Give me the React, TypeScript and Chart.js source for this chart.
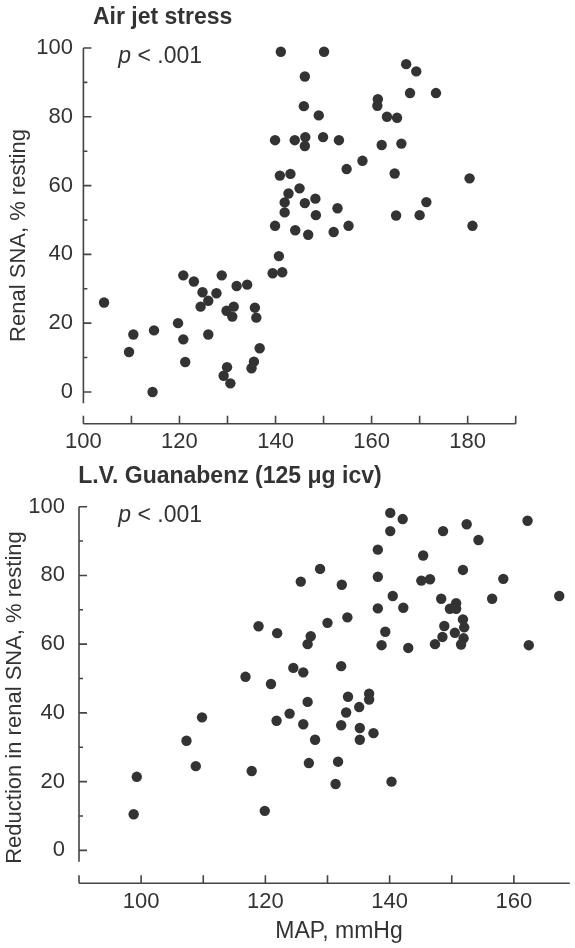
import React, { useEffect, useRef } from 'react';
import { Chart, registerables } from 'chart.js';

Chart.register(...registerables);

// ---------- Data: Air jet stress ----------
const airMap = [
  104.3, 109.5, 110.4, 114.7, 114.4, 119.7, 120.8, 120.8, 121.2, 123.0,
  124.4, 124.8, 126.0, 126.0, 127.7, 128.8, 129.2, 129.8, 129.9, 130.6,
  131.0, 131.3, 131.9, 134.1, 135.7, 136.0, 136.7, 135.5, 135.0, 139.9,
  140.7, 139.4, 141.4, 144.1, 146.8, 152.1, 155.2, 181.0, 141.9, 148.4,
  165.1, 170.0, 141.9, 146.1, 148.3, 152.9, 171.4, 142.7, 145.0, 140.9,
  143.1, 164.8, 180.4, 154.8, 158.1, 139.9, 144.0, 146.2, 146.1, 149.9,
  153.2, 162.1, 166.2, 149.0, 163.2, 165.3, 145.9, 161.3, 161.2, 168.0,
  173.4, 146.1, 167.2, 169.3, 141.1, 150.1,
];
const airSna = [
  26.0, 11.6, 16.7, 17.9, 0, 20.0, 33.9, 15.3, 8.7, 32.1,
  24.8, 29.0, 26.5, 16.7, 28.7, 33.9, 4.7, 23.6, 7.2, 2.5,
  21.9, 24.8, 30.8, 31.2, 24.5, 21.6, 12.7, 8.8, 6.9, 48.3,
  39.5, 34.5, 34.8, 47.0, 45.7, 46.5, 48.3, 48.3, 52.2, 51.4,
  51.3, 51.4, 55.1, 54.9, 56.2, 53.4, 55.2, 57.7, 59.2, 62.9,
  63.4, 63.5, 62.1, 64.8, 67.2, 73.2, 73.2, 74.1, 71.5, 74.1,
  73.2, 71.8, 72.2, 80.4, 80.0, 79.7, 83.1, 85.1, 83.2, 86.9,
  86.9, 91.7, 95.3, 93.2, 98.9, 98.9,
];

// ---------- Data: L.V. Guanabenz ----------
const guanMap = [
  140.1, 142.1, 162.2, 140.1, 148.6, 152.4, 154.3, 138.1, 145.4, 128.8,
  125.7, 132.3, 138.1, 145.1, 146.5, 151.8, 158.3, 167.3, 140.5, 138.1,
  142.2, 148.3, 156.5, 150.7, 149.7, 150.7, 151.8, 152.0, 148.8, 150.5,
  148.5, 151.9, 151.5, 147.3, 143.0, 138.7, 139.3, 162.4, 133.2, 130.0,
  127.3, 126.8, 118.9, 121.9, 98.8, 99.3, 107.3, 108.8, 109.8, 116.8,
  117.8, 119.9, 120.9, 121.8, 123.9, 124.5, 126.1, 132.2, 126.8, 133.3,
  136.7, 136.7, 135.1, 133.0, 126.1, 132.2, 135.2, 137.4, 135.2, 128.0,
  127.0, 131.7, 131.3, 140.3,
];
const guanSna = [
  98.2, 96.4, 95.9, 92.9, 92.9, 94.9, 90.3, 87.5, 85.8, 81.9,
  78.2, 77.3, 79.6, 78.5, 78.9, 81.6, 79.0, 74.0, 74.0, 70.4,
  70.6, 73.2, 73.2, 71.9, 70.3, 70.3, 67.2, 64.9, 65.3, 63.3,
  62.1, 61.7, 59.9, 60.0, 58.9, 59.7, 63.6, 59.7, 67.8, 66.2,
  62.3, 60.0, 65.2, 63.2, 10.5, 21.4, 31.9, 24.5, 38.7, 50.5,
  23.1, 11.5, 48.4, 37.7, 39.8, 53.1, 51.8, 53.6, 43.2, 44.7,
  45.6, 43.9, 41.7, 40.1, 36.7, 36.4, 35.6, 34.1, 32.2, 32.2,
  25.4, 25.8, 19.3, 20.0,
];

// ---------- Ticks ----------
const yMajorTicks = [0, 20, 40, 60, 80, 100];
const yMinorTicks = [10, 30, 50, 70, 90];
const airXMajorTicks = [100, 120, 140, 160, 180];
const airXMinorTicks = [110, 130, 150, 170, 190];
const guanXMajorTicks = [100, 120, 140, 160];
const guanXMinorTicks = [90, 110, 130, 150];

const FONT = "'Liberation Sans', Arial, Helvetica, sans-serif";
const INK = '#333333';
const AXIS = '#444444';

const decorPlugin = {
  id: 'decor',
  afterDraw(chart: any, _args: any, opts: any) {
    const { ctx, chartArea } = chart;
    const xs = chart.scales.x;
    const ys = chart.scales.y;
    ctx.save();
    ctx.strokeStyle = AXIS;
    ctx.lineWidth = 1.6;
    ctx.beginPath();
    const yx = chartArea.left;
    ctx.moveTo(yx, chartArea.bottom);
    ctx.lineTo(yx, chartArea.top);
    ys.ticks.forEach((t: any) => {
      const py = ys.getPixelForValue(t.value);
      const len = opts.yMajor.includes(t.value) ? 8 : 4;
      ctx.moveTo(yx, py);
      ctx.lineTo(yx + len, py);
    });
    const ay = chartArea.bottom + opts.axisGap;
    ctx.moveTo(chartArea.left, ay);
    ctx.lineTo(chartArea.right, ay);
    xs.ticks.forEach((t: any) => {
      const px = xs.getPixelForValue(t.value);
      ctx.moveTo(px, ay);
      ctx.lineTo(px, ay - 8);
    });
    ctx.stroke();

    ctx.fillStyle = INK;
    ctx.textBaseline = 'alphabetic';
    // title
    ctx.textAlign = 'left';
    ctx.font = `bold 23px ${FONT}`;
    ctx.fillText(opts.title, opts.titleX, opts.titleY);
    // p value
    ctx.font = `italic 23px ${FONT}`;
    ctx.fillText('p', opts.pX, opts.pY);
    const pw = ctx.measureText('p').width;
    ctx.font = `23px ${FONT}`;
    ctx.fillText(' < .001', opts.pX + pw, opts.pY);
    // y title
    ctx.save();
    ctx.translate(opts.yTitleX, opts.yTitleY);
    ctx.rotate(-Math.PI / 2);
    ctx.textAlign = 'center';
    ctx.font = `22px ${FONT}`;
    ctx.fillText(opts.yTitle, 0, 0);
    ctx.restore();
    // x title
    if (opts.xTitle) {
      ctx.textAlign = 'center';
      ctx.font = `23px ${FONT}`;
      ctx.fillText(opts.xTitle, opts.xTitleX, opts.xTitleY);
    }
    ctx.restore();
  },
};

type PanelProps = {
  width: number;
  height: number;
  xs: number[];
  ys: number[];
  xMin: number;
  xMax: number;
  xMajor: number[];
  xMinor: number[];
  yAxisWidth: number;
  padTop: number;
  padRight: number;
  plotBottom: number;
  xLabelPad: number;
  yLabelPad: number;
  decor: any;
};

function Panel(p: PanelProps) {
  const ref = useRef<HTMLCanvasElement>(null);
  useEffect(() => {
    if (!ref.current) return;
    const points = p.xs.map((x, i) => ({ x, y: p.ys[i] }));
    const xTicks = [...p.xMajor, ...p.xMinor].sort((a, b) => a - b);
    const yTicks = [...yMajorTicks, ...yMinorTicks].sort((a, b) => a - b);
    const chart = new Chart(ref.current, {
      type: 'scatter',
      data: {
        datasets: [
          {
            data: points,
            backgroundColor: INK,
            borderColor: INK,
            borderWidth: 0,
            pointRadius: 5.2,
            pointHoverRadius: 5.2,
            clip: false as any,
          },
        ],
      },
      plugins: [decorPlugin],
      options: {
        animation: false,
        responsive: false,
        maintainAspectRatio: false,
        events: [],
        layout: { padding: { top: p.padTop, right: p.padRight, left: 0, bottom: 0 } },
        plugins: {
          legend: { display: false },
          tooltip: { enabled: false },
          decor: p.decor,
        } as any,
        scales: {
          x: {
            type: 'linear',
            min: p.xMin,
            max: p.xMax,
            grid: { display: false, drawTicks: false },
            border: { display: false },
            afterBuildTicks: (s: any) => {
              s.ticks = xTicks.map((v) => ({ value: v }));
            },
            afterFit: (s: any) => {
              s.height = p.height - p.plotBottom;
            },
            ticks: {
              autoSkip: false,
              maxRotation: 0,
              padding: p.xLabelPad,
              color: INK,
              font: { family: FONT, size: 22 },
              callback: (v: any) => (p.xMajor.includes(Number(v)) ? String(v) : ''),
            },
          },
          y: {
            type: 'linear',
            min: -3.3,
            max: 100,
            grid: { display: false, drawTicks: false },
            border: { display: false },
            afterBuildTicks: (s: any) => {
              s.ticks = yTicks.map((v) => ({ value: v }));
            },
            afterFit: (s: any) => {
              s.width = p.yAxisWidth;
            },
            ticks: {
              autoSkip: false,
              padding: p.yLabelPad,
              color: INK,
              font: { family: FONT, size: 22 },
              callback: (v: any) => (yMajorTicks.includes(Number(v)) ? String(v) : ''),
            },
          },
        },
      } as any,
    });
    return () => chart.destroy();
  }, []);
  return <canvas ref={ref} width={p.width} height={p.height} style={{ display: 'block' }} />;
}

export default function App() {
  return (
    <div style={{ position: 'absolute', left: 0, top: 0, width: 575, height: 948, background: '#fff' }}>
      <Panel
        width={575}
        height={460}
        xs={airMap}
        ys={airSna}
        xMin={100}
        xMax={190}
        xMajor={airXMajorTicks}
        xMinor={airXMinorTicks}
        yAxisWidth={83.4}
        padTop={48}
        padRight={59.3}
        plotBottom={403.3}
        xLabelPad={25.5}
        yLabelPad={10.4}
        decor={{
          yMajor: yMajorTicks,
          axisGap: 20.5,
          title: 'Air jet stress',
          titleX: 93,
          titleY: 24,
          pX: 118.3,
          pY: 63.3,
          yTitle: 'Renal SNA, % resting',
          yTitleX: 25,
          yTitleY: 235.5,
        }}
      />
      <Panel
        width={575}
        height={488}
        xs={guanMap}
        ys={guanSna}
        xMin={90}
        xMax={169}
        xMajor={guanXMajorTicks}
        xMinor={guanXMinorTicks}
        yAxisWidth={79}
        padTop={46.7}
        padRight={0}
        plotBottom={401.7}
        xLabelPad={27}
        yLabelPad={14}
        decor={{
          yMajor: yMajorTicks,
          axisGap: 21.5,
          title: 'L.V. Guanabenz (125 \u03bcg icv)',
          titleX: 78.3,
          titleY: 23.3,
          pX: 118.3,
          pY: 61.7,
          yTitle: 'Reduction in renal SNA, % resting',
          yTitleX: 21,
          yTitleY: 237.5,
          xTitle: 'MAP, mmHg',
          xTitleX: 339,
          xTitleY: 478.3,
        }}
      />
    </div>
  );
}
